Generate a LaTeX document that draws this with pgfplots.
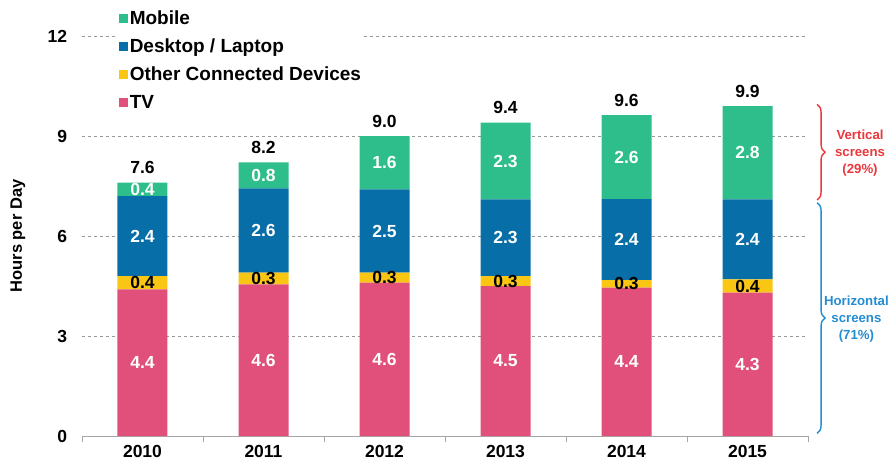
\documentclass[border=0pt]{standalone}
\usepackage{pgfplots}
\usepackage{pgfplotstable}
\pgfplotsset{compat=1.18}
\usepackage{fontspec}
\setmainfont{Liberation Sans}
\usetikzlibrary{decorations.pathreplacing}
\definecolor{cMob}{RGB}{45,190,140}
\definecolor{cDesk}{RGB}{8,110,168}
\definecolor{cOther}{RGB}{250,198,20}
\definecolor{cTV}{RGB}{224,80,122}
\definecolor{cRed}{RGB}{235,55,60}
\definecolor{cBlue}{RGB}{35,140,210}
\pgfplotstableread{
x tv oth desk mob ltv loth ldesk lmob tot
0 4.4  0.4  2.4  0.4  4.4 0.4 2.4 0.4 7.6
1 4.55 0.35 2.53 0.78 4.6 0.3 2.6 0.8 8.2
2 4.6  0.3  2.5  1.6  4.6 0.3 2.5 1.6 9.0
3 4.5  0.3  2.3  2.3  4.5 0.3 2.3 2.3 9.4
4 4.45 0.23 2.43 2.52 4.4 0.3 2.4 2.6 9.6
5 4.3  0.4  2.4  2.8  4.3 0.4 2.4 2.8 9.9
}\data
\begin{document}
\begin{tikzpicture}
\pgfplotsset{
  base/.style={scale only axis, width=726pt, height=400pt,
    xmin=-0.5, xmax=5.5, ymin=0, ymax=12, clip=false},
  lab/.style={draw=none, mark=none, nodes near coords, point meta=explicit symbolic,
    every node near coord/.append style={anchor=center,
      font=\fontsize{17.5}{20}\selectfont\bfseries, #1}},
}
\begin{axis}[name=main, base,
  ybar stacked, bar width=50pt,
  xtick={0,1,2,3,4,5}, xticklabels={2010,2011,2012,2013,2014,2015},
  minor xtick={-0.5,0.5,1.5,2.5,3.5,4.5,5.5},
  major x tick style={draw=none},
  minor x tick style={draw=gray!70, line width=0.8pt},
  minor tick length=6pt, tick align=outside,
  ytick={0,3,6,9,12}, major y tick style={draw=none},
  axis x line*=bottom, axis y line*=left,
  x axis line style={draw=gray!70, line width=0.8pt, -},
  y axis line style={draw=none},
  ymajorgrids, grid style={gray!80, dash pattern=on 3pt off 3pt, line width=0.7pt},
  /pgf/number format/assume math mode=true,
  ticklabel style={font=\fontsize{17.5}{20}\selectfont\bfseries},
  yticklabel style={xshift=-7pt},
  xticklabel style={yshift=-1pt},
  legend style={at={(rel axis cs:0.049,1.072)}, anchor=north west, draw=none, fill=white,
    font=\fontsize{19}{21}\selectfont\bfseries, inner sep=1pt, row sep=9pt,
    cells={anchor=west}},
  legend image code/.code={\fill[#1,draw=none] (0pt,-4.5pt) rectangle (9pt,4.5pt);},
  reverse legend,
]
\addplot[fill=cTV, draw=none] table[x=x, y=tv] {\data};
\addlegendentry{TV}
\addplot[fill=cOther, draw=none] table[x=x, y=oth] {\data};
\addlegendentry{Other Connected Devices}
\addplot[fill=cDesk, draw=none] table[x=x, y=desk] {\data};
\addlegendentry{Desktop / Laptop}
\addplot[fill=cMob, draw=none] table[x=x, y=mob] {\data};
\addlegendentry{Mobile}
\node[rotate=90, font=\fontsize{16.5}{18}\selectfont\bfseries] at ([xshift=-64pt]rel axis cs:0,0.5) {Hours per Day};
\draw[cRed, line width=1.4pt, decorate, decoration={brace, amplitude=8pt}]
  (axis cs:5.575,9.95) -- (axis cs:5.575,7.08);
\draw[cBlue, line width=1.4pt, decorate, decoration={brace, amplitude=8pt}]
  (axis cs:5.575,7.0) -- (axis cs:5.575,0.08);
\node[cRed, align=center, font=\fontsize{13.2}{17}\selectfont\bfseries] at (axis cs:5.93,8.5)
  {Vertical\\screens\\(29\%)};
\node[cBlue, align=center, font=\fontsize{13.2}{17}\selectfont\bfseries] at (axis cs:5.9,3.5)
  {Horizontal\\screens\\(71\%)};
\end{axis}
\begin{axis}[base, hide axis, at={(main.south west)}, anchor=south west]
\addplot[lab=white] table[x=x, y expr=\thisrow{tv}/2, meta=ltv] {\data};
\addplot[lab=black] table[x=x, y expr=\thisrow{tv}+\thisrow{oth}/2, meta=loth] {\data};
\addplot[lab=white] table[x=x, y expr=\thisrow{tv}+\thisrow{oth}+\thisrow{desk}/2, meta=ldesk] {\data};
\addplot[lab=white] table[x=x, y expr=\thisrow{tv}+\thisrow{oth}+\thisrow{desk}+\thisrow{mob}/2, meta=lmob] {\data};
\addplot[lab={black, anchor=south, yshift=5pt}] table[x=x, y expr=\thisrow{tv}+\thisrow{oth}+\thisrow{desk}+\thisrow{mob}, meta=tot] {\data};
\coordinate (O) at (rel axis cs:0,0);
\end{axis}
\pgfresetboundingbox
\path[use as bounding box] ([shift={(-82pt,-31pt)}]O) rectangle ([shift={(811pt,436pt)}]O);
\end{tikzpicture}
\end{document}
